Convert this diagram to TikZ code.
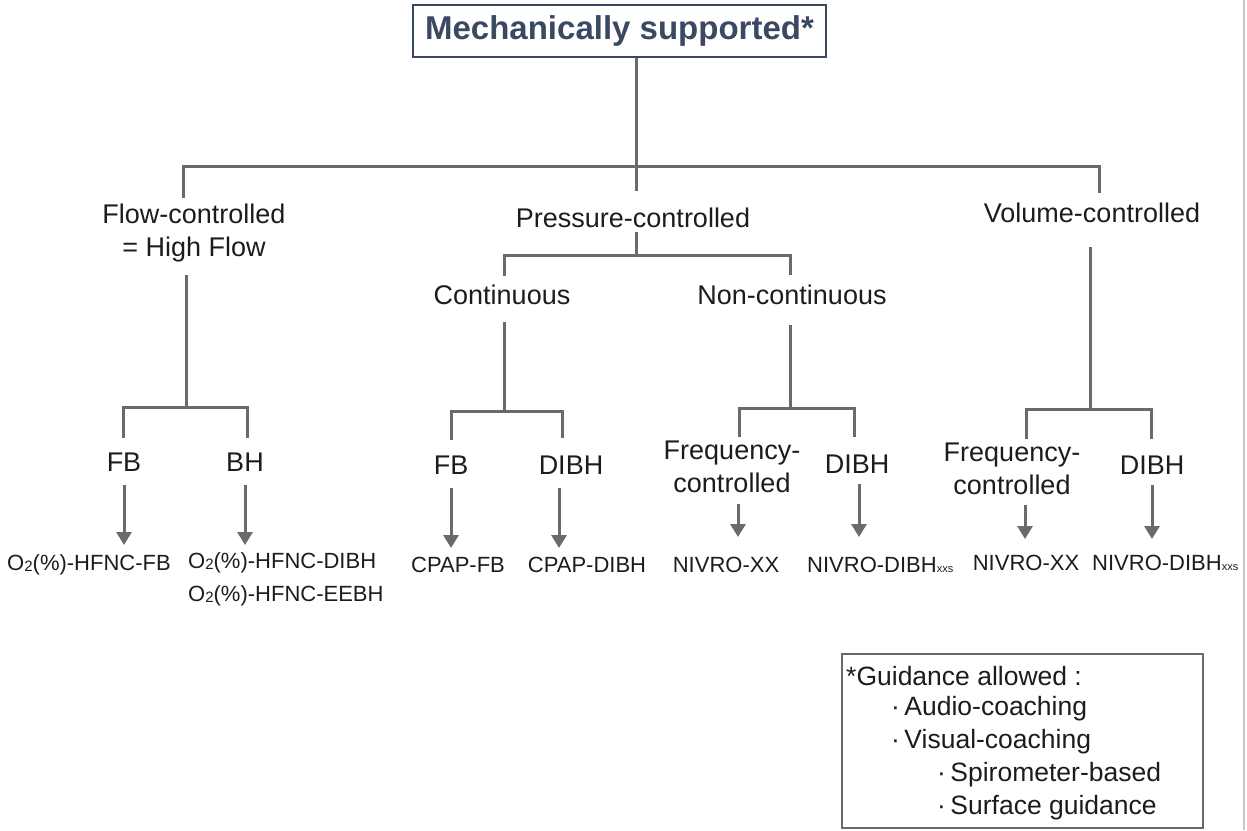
\documentclass[tikz,border=0pt]{standalone}
\usepackage{fontspec}
\setmainfont{Liberation Sans}
\usetikzlibrary{arrows.meta}
\definecolor{linegray}{HTML}{6A6A6A}
\definecolor{titleblue}{HTML}{3A4862}
\definecolor{txt}{HTML}{1C1C1C}
\newcommand{\otwo}{O{\fontsize{15}{15}\selectfont\raisebox{-1pt}{2}}}
\newcommand{\xxs}{{\fontsize{11}{11}\selectfont xxs}}
\begin{document}
\begin{tikzpicture}[x=1pt,y=-1pt,
  line/.style={draw=linegray, line width=3pt},
  arr/.style={draw=linegray, line width=3pt, -{Triangle[width=15pt,length=13pt]}},
  lab/.style={text=txt, font=\fontsize{27}{33}\selectfont, inner sep=0pt, align=center},
  res/.style={text=txt, font=\fontsize{22}{33}\selectfont, inner sep=0pt},
  guide/.style={text=txt, font=\fontsize{26.5}{33}\selectfont, inner sep=0pt, anchor=west}]
\useasboundingbox (0,0) rectangle (1247,830);
% page edge
\draw[draw=black!22, line width=2pt] (1244,0) -- (1244,830);

% title
\node[draw=titleblue, line width=2.5pt, text=titleblue,
  font=\bfseries\fontsize{33}{38}\selectfont,
  minimum width=413pt, minimum height=52pt, inner sep=0pt] (title) at (619.5,31) {Mechanically supported*};

% level 1 labels
\node[lab] (fc) at (194,233) {Flow-controlled\\= High Flow};
\node[lab] (pc) at (633,218) {Pressure-controlled};
\node[lab] (vc) at (1092,213) {Volume-controlled};

% level 1 connectors
\coordinate (hub) at (636,166);
\coordinate (fcTop) at (183,198);
\coordinate (pcTop) at (636,191);
\coordinate (vcTop) at (1099,193);
\draw[line] (title.south -| hub) -- (hub);
\draw[line] (fcTop) |- (vcTop |- hub) -- (vcTop);
\draw[line] (hub) -- (pcTop);

% pressure sublevel
\node[lab] (cont) at (502,295) {Continuous};
\node[lab] (ncont) at (792,295) {Non-continuous};
\coordinate (pcBot) at (636,232);
\coordinate (contTop) at (504,276);
\coordinate (ncontTop) at (790,275);
\draw[line] (pcBot) -- (pcBot |- 0,255);
\draw[line] (contTop) |- (ncontTop |- 0,255) -- (ncontTop);

% ---- flow group
\coordinate (fcBot) at (186,275);
\coordinate (fcBar) at (186,407);
\coordinate (fbTop) at (123,438);
\coordinate (bhTop) at (247,438);
\draw[line] (fcBot) -- (fcBar);
\draw[line] (fbTop) |- (bhTop |- fcBar) -- (bhTop);
\node[lab] (fb1) at (124,462) {FB};
\node[lab] (bh1) at (245,462) {BH};
\node[res] (r1) at (89,565) {\otwo(\%)-HFNC-FB};
\node[res, align=left, anchor=north west] (r2) at (188,552) {\otwo(\%)-HFNC-DIBH\\\otwo(\%)-HFNC-EEBH};
\coordinate (a1s) at (124,485); \coordinate (a1e) at (124,545);
\coordinate (a2s) at (245,485); \coordinate (a2e) at (245,545);
\draw[arr] (a1s) -- (a1e);
\draw[arr] (a2s) -- (a2e);

% ---- continuous group
\coordinate (contBot) at (504,322);
\coordinate (contBar) at (504,411);
\coordinate (fb2Top) at (451,440);
\coordinate (di2Top) at (562,438);
\draw[line] (contBot) -- (contBar);
\draw[line] (fb2Top) |- (di2Top |- contBar) -- (di2Top);
\node[lab] (fb2) at (451,465) {FB};
\node[lab] (di2) at (571,465) {DIBH};
\node[res] (r3) at (458,565) {CPAP-FB};
\node[res] (r4) at (587,565) {CPAP-DIBH};
\coordinate (a3s) at (451,488); \coordinate (a3e) at (451,548);
\coordinate (a4s) at (559,488); \coordinate (a4e) at (559,548);
\draw[arr] (a3s) -- (a3e);
\draw[arr] (a4s) -- (a4e);

% ---- non-continuous group
\coordinate (ncBot) at (790,325);
\coordinate (ncBar) at (790,408);
\coordinate (fq3Top) at (739,437);
\coordinate (di3Top) at (854,437);
\draw[line] (ncBot) -- (ncBar);
\draw[line] (fq3Top) |- (di3Top |- ncBar) -- (di3Top);
\node[lab] (fq3) at (732,467) {Frequency-\\controlled};
\node[lab] (di3) at (857,464) {DIBH};
\node[res] (r5) at (726,565) {NIVRO-XX};
\node[res, anchor=west] (r6) at (807,565) {NIVRO-DIBH\xxs};
\coordinate (a5s) at (738,504); \coordinate (a5e) at (738,537);
\coordinate (a6s) at (859,484); \coordinate (a6e) at (859,537);
\draw[arr] (a5s) -- (a5e);
\draw[arr] (a6s) -- (a6e);

% ---- volume group
\coordinate (vcBot) at (1090,247);
\coordinate (vcBar) at (1090,409);
\coordinate (fq4Top) at (1026,439);
\coordinate (di4Top) at (1151,439);
\draw[line] (vcBot) -- (vcBar);
\draw[line] (fq4Top) |- (di4Top |- vcBar) -- (di4Top);
\node[lab] (fq4) at (1012,469) {Frequency-\\controlled};
\node[lab] (di4) at (1152,465) {DIBH};
\node[res] (r7) at (1026,563) {NIVRO-XX};
\node[res, anchor=west] (r8) at (1092,563) {NIVRO-DIBH\xxs};
\coordinate (a7s) at (1025,505); \coordinate (a7e) at (1025,539);
\coordinate (a8s) at (1152,485); \coordinate (a8e) at (1152,539);
\draw[arr] (a7s) -- (a7e);
\draw[arr] (a8s) -- (a8e);

% guidance box
\node[draw=linegray, line width=2.5pt, minimum width=361pt, minimum height=174pt, inner sep=0pt] (gbox) at (1022.5,741) {};
\node[guide] (g1) at (846,676) {*Guidance allowed :};
\node[guide] (g2) at (891,709) {·\,Audio-coaching};
\node[guide] (g3) at (891,742) {·\,Visual-coaching};
\node[guide] (g4) at (937,775) {·\,Spirometer-based};
\node[guide] (g5) at (937,808) {·\,Surface guidance};
\end{tikzpicture}
\end{document}
